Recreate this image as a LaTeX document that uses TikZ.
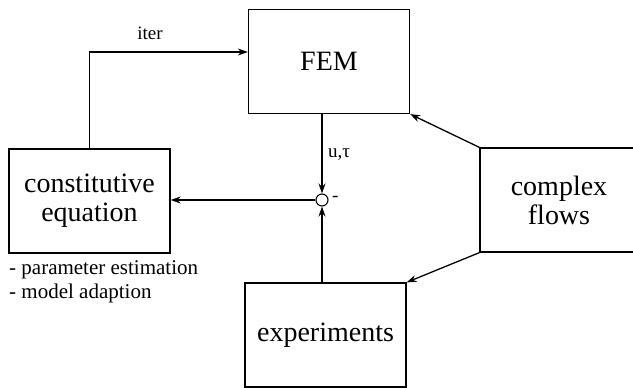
\documentclass[tikz,border=0pt]{standalone}
\usepackage{fontspec}
\setmainfont{Liberation Serif}
\usetikzlibrary{arrows.meta,calc}
\begin{document}
\begin{tikzpicture}[x=1pt,y=-1pt,
  box/.style={draw,line width=1.3pt,minimum width=161pt,minimum height=104pt,inner sep=0pt,align=center,font=\fontsize{28}{29}\selectfont},
  arr/.style={line width=1.3pt,-{Stealth[length=10pt,width=7pt]}},
  small/.style={font=\fontsize{19}{21}\selectfont,inner sep=0pt},
  note/.style={font=\fontsize{21}{23}\selectfont,inner sep=0pt}]
\useasboundingbox (0,0) rectangle (633,388);
\node[box] (fem) at (329,61.5) {FEM};
\node[box] (cons) at (89.5,201) {constitutive\\equation};
\node[box,minimum width=158pt] (cf) at (559,200) {complex\\flows};
\node[box] (exp) at (325.5,335) {experiments};
\node[draw,circle,line width=1.1pt,minimum size=12pt,inner sep=0pt] (sum) at (322,200) {};
\node[small,anchor=west] (minus) at (332,199) {-};
\node[small,anchor=west] (ut) at (328,155) {u,τ};
\node[small] (iter) at (150,33) {iter};
\node[note,anchor=west] (p1) at (9,270) {- parameter estimation};
\node[note,anchor=west] (p2) at (9,293) {- model adaption};
\draw[arr] (sum |- fem.south) -- (sum.north);
\draw[arr] (sum |- exp.north) -- (sum.south);
\draw[arr] (sum.west) -- (cons.east |- sum);
\draw[arr] (cons.north) |- ($(fem.west)+(0,-9.5)$);
\draw[arr] (cf.north west) -- (fem.south east);
\draw[arr] (cf.south west) -- (exp.north east);
\end{tikzpicture}
\end{document}
